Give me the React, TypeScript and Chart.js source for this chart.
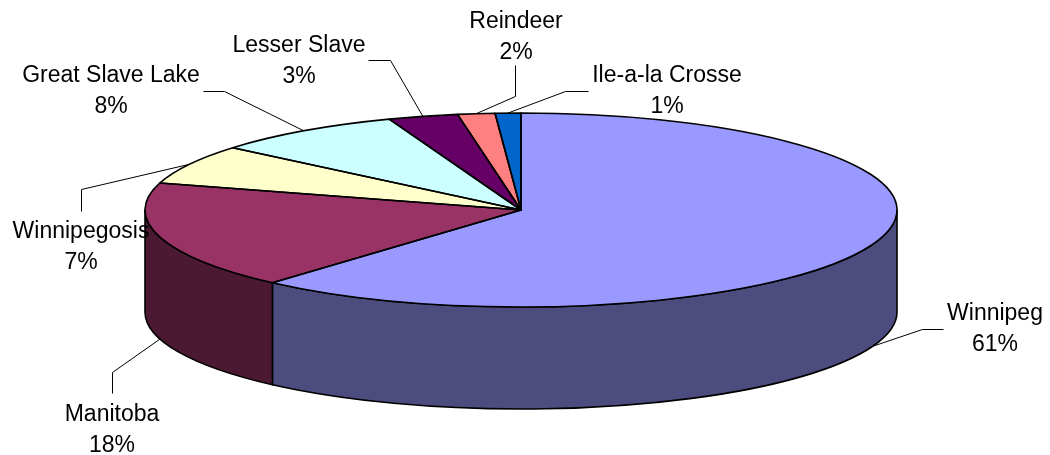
import React, { useEffect, useRef } from 'react';
import { Chart, registerables } from 'chart.js';

Chart.register(...registerables);

// ---- data ----
const lakes = ['Winnipeg', 'Manitoba', 'Winnipegosis', 'Great Slave Lake', 'Lesser Slave', 'Reindeer', 'Ile-a-la Crosse'];
const shares = [61.49, 18.0, 6.6, 8.2, 3.0, 1.6, 1.1];

// ---- styles ----
const topColors = ['#9999FF', '#993366', '#FFFFCC', '#CCFFFF', '#660066', '#FF8080', '#0066CC'];
const sideColors = ['#4C4C7F', '#4C1933', '#7F7F66', '#667F7F', '#330033', '#7F4040', '#003366'];
const TILT = 97 / 376; // vertical squash of the pie top
const DEPTH = 102; // thickness of the 3D pie
const FONT = '23px "Liberation Sans", Arial, sans-serif';
const LINE_H = 30.5;

// label layout: text centre x, first baseline y, leader start, leader elbow
const labelLayout = [
  { x: 995, y: 320, s: [943, 329], e: [922, 329] },
  { x: 112, y: 421, s: [112, 393], e: [112, 372] },
  { x: 81, y: 238, s: [81, 211], e: [81, 189] },
  { x: 111, y: 82, s: [203, 91], e: [224, 91] },
  { x: 299, y: 52, s: [368, 60], e: [390, 60] },
  { x: 516, y: 28, s: [515, 65], e: [515, 96] },
  { x: 667, y: 82, s: [588, 91], e: [565, 91] },
];

const pie3d = {
  id: 'pie3d',
  beforeDatasetsDraw(chart: any) {
    const ctx = chart.ctx as CanvasRenderingContext2D;
    const arcs = chart.getDatasetMeta(0).data;
    ctx.save();
    let cx = 0, cy = 0;
    arcs.forEach((arc: any, i: number) => {
      const { x, y, startAngle, endAngle, outerRadius } = arc.getProps(['x', 'y', 'startAngle', 'endAngle', 'outerRadius'], true);
      cx = x; cy = y;
      const rx = outerRadius, ry = outerRadius * TILT;
      const a = Math.max(startAngle, 0), b = Math.min(endAngle, Math.PI);
      if (b <= a) return;
      ctx.beginPath();
      ctx.ellipse(x, y, rx, ry, 0, a, b);
      ctx.lineTo(x + rx * Math.cos(b), y + ry * Math.sin(b) + DEPTH);
      ctx.ellipse(x, y + DEPTH, rx, ry, 0, b, a, true);
      ctx.closePath();
      ctx.fillStyle = sideColors[i];
      ctx.fill();
      ctx.lineWidth = 1.6;
      ctx.strokeStyle = '#000';
      ctx.lineJoin = 'round';
      ctx.stroke();
    });
    ctx.translate(cx, cy);
    ctx.scale(1, TILT);
    ctx.translate(-cx, -cy);
  },
  afterDatasetsDraw(chart: any) {
    const ctx = chart.ctx as CanvasRenderingContext2D;
    ctx.restore();
    const arcs = chart.getDatasetMeta(0).data;
    const total = shares.reduce((s, v) => s + v, 0);
    ctx.save();
    // top outlines
    arcs.forEach((arc: any) => {
      const { x, y, startAngle, endAngle, outerRadius } = arc.getProps(['x', 'y', 'startAngle', 'endAngle', 'outerRadius'], true);
      const rx = outerRadius, ry = outerRadius * TILT;
      ctx.beginPath();
      ctx.moveTo(x, y);
      ctx.ellipse(x, y, rx, ry, 0, startAngle, endAngle);
      ctx.closePath();
      ctx.lineWidth = 1.6;
      ctx.strokeStyle = '#000';
      ctx.lineJoin = 'round';
      ctx.stroke();
    });
    // leaders and labels
    ctx.font = FONT;
    ctx.fillStyle = '#000';
    ctx.textAlign = 'center';
    ctx.textBaseline = 'alphabetic';
    arcs.forEach((arc: any, i: number) => {
      const { x, y, startAngle, endAngle, outerRadius } = arc.getProps(['x', 'y', 'startAngle', 'endAngle', 'outerRadius'], true);
      const mid = (startAngle + endAngle) / 2;
      const rx = outerRadius, ry = outerRadius * TILT;
      const px = x + rx * Math.cos(mid);
      let py = y + ry * Math.sin(mid);
      if (Math.sin(mid) > 0) py += DEPTH;
      const L = labelLayout[i];
      ctx.beginPath();
      ctx.moveTo(L.s[0] + 0.5, L.s[1] + 0.5);
      ctx.lineTo(L.e[0] + 0.5, L.e[1] + 0.5);
      ctx.lineTo(px, py);
      ctx.lineWidth = 1;
      ctx.strokeStyle = '#000';
      ctx.stroke();
      const pct = Math.round((shares[i] / total) * 100) + '%';
      ctx.fillText(lakes[i], L.x, L.y);
      ctx.fillText(pct, L.x, L.y + LINE_H);
    });
    ctx.restore();
  },
};

export default function App() {
  const ref = useRef<HTMLCanvasElement | null>(null);
  useEffect(() => {
    if (!ref.current) return;
    const chart = new Chart(ref.current, {
      type: 'pie',
      data: {
        labels: lakes,
        datasets: [
          {
            data: shares,
            backgroundColor: topColors,
            borderWidth: 0,
            clip: false as any,
          } as any,
        ],
      },
      options: {
        responsive: false,
        animation: false,
        events: [],
        radius: 376,
        layout: { padding: { left: 0, right: 8, top: 0, bottom: 35 } },
        plugins: { legend: { display: false }, tooltip: { enabled: false } },
      } as any,
      plugins: [pie3d],
    });
    return () => chart.destroy();
  }, []);
  return (
    <div style={{ position: 'fixed', left: 0, top: 0, width: 1050, height: 455, background: '#fff' }}>
      <canvas ref={ref} width={1050} height={455} style={{ display: 'block' }} />
    </div>
  );
}
